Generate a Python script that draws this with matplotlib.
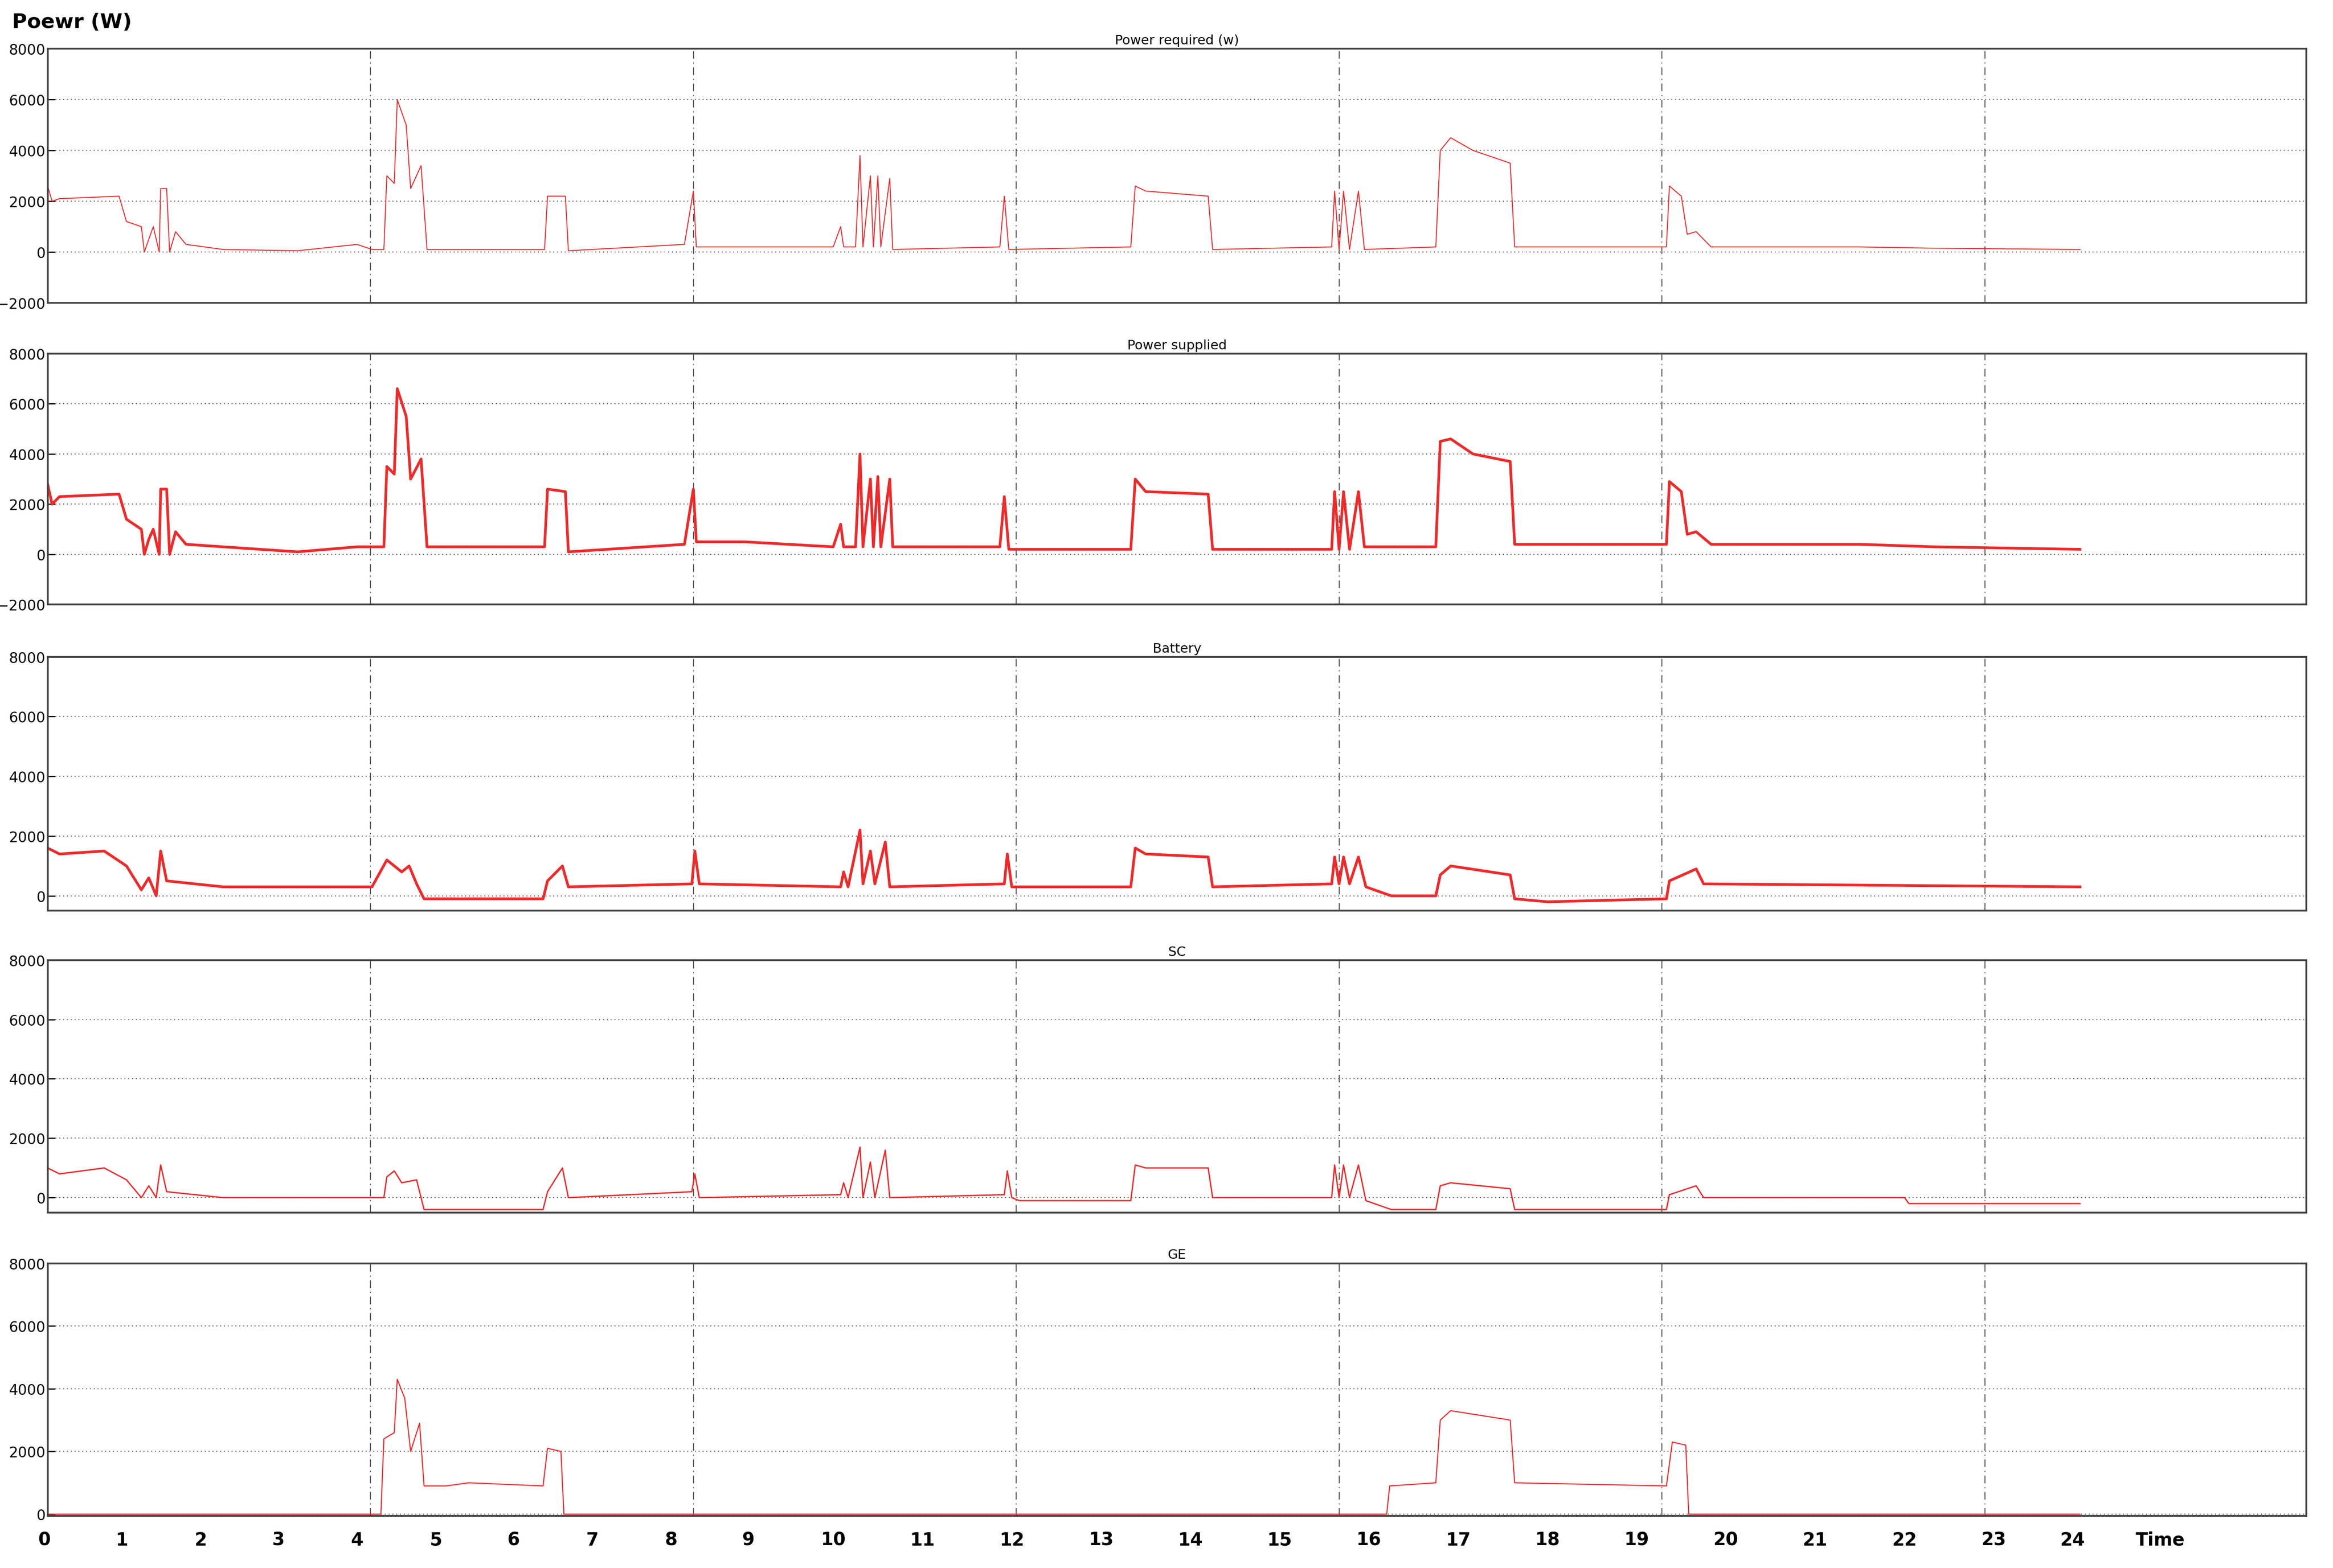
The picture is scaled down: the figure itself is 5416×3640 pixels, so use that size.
import numpy as np
import matplotlib
matplotlib.use("Agg")
import matplotlib.pyplot as plt

# time in samples (axis spans 0..1518, grid every 217 samples)
req_t = [0,3,8,48,53,63,65,68,71,75,76,80,82,86,93,118,168,208,218,226,228,233,235,241,244,251,255,334,336,348,350,428,434,436,468,528,533,535,543,546,548,553,555,558,560,566,568,640,643,646,728,731,738,780,783,863,865,868,871,875,881,885,933,936,943,958,983,986,1088,1090,1098,1102,1108,1118,1218,1268,1366]
req_v = [2600,2000,2100,2200,1200,1000,0,500,1000,0,2500,2500,0,800,300,100,50,300,100,100,3000,2700,6000,5000,2500,3400,100,100,2200,2200,50,300,2400,200,200,200,1000,200,200,3800,200,3000,200,3000,200,2900,100,200,2200,100,200,2600,2400,2200,100,200,2400,100,2400,100,2400,100,200,4000,4500,4000,3500,200,200,2600,2200,700,800,200,200,150,100]

sup_t = [0,3,8,48,53,63,65,68,71,75,76,80,82,86,93,118,168,208,218,226,228,233,235,241,244,251,255,334,336,348,350,428,434,436,468,528,533,535,543,546,548,553,555,558,560,566,568,640,643,646,728,731,738,780,783,863,865,868,871,875,881,885,933,936,943,958,983,986,1088,1090,1098,1102,1108,1118,1218,1268,1366]
sup_v = [2800,2000,2300,2400,1400,1000,0,600,1000,0,2600,2600,0,900,400,300,100,300,300,300,3500,3200,6600,5500,3000,3800,300,300,2600,2500,100,400,2600,500,500,300,1200,300,300,4000,300,3000,300,3100,300,3000,300,300,2300,200,200,3000,2500,2400,200,200,2500,200,2500,200,2500,300,300,4500,4600,4000,3700,400,400,2900,2500,800,900,400,400,300,200]

bat_t = [0,8,38,53,63,68,73,76,80,118,218,228,238,243,248,253,333,336,346,350,433,435,438,533,535,538,546,548,553,556,563,566,643,645,648,728,731,738,780,783,863,865,868,871,875,881,886,903,933,936,943,983,986,1008,1088,1090,1108,1113,1366]
bat_v = [1600,1400,1500,1000,200,600,0,1500,500,300,300,1200,800,1000,400,-100,-100,500,1000,300,400,1500,400,300,800,300,2200,400,1500,400,1800,300,400,1400,300,300,1600,1400,1300,300,400,1300,400,1300,400,1300,300,0,0,700,1000,700,-100,-200,-100,500,900,400,300]

sc_t = [0,8,38,53,63,68,73,76,80,118,218,226,228,233,238,248,253,333,336,346,350,433,435,438,533,535,538,546,548,553,556,563,566,643,645,648,653,728,731,738,780,783,863,865,868,871,875,881,886,903,933,936,943,983,986,1088,1090,1108,1113,1248,1251,1366]
sc_v = [1000,800,1000,600,0,400,0,1100,200,0,0,0,700,900,500,600,-400,-400,200,1000,0,200,800,0,100,500,0,1700,0,1200,0,1600,0,100,900,0,-100,-100,1100,1000,1000,0,0,1100,0,1100,0,1100,-100,-400,-400,400,500,300,-400,-400,100,400,0,0,-200,-200]

ge_t = [0,224,226,233,235,240,244,250,253,268,283,333,336,345,347,900,902,933,936,943,983,986,1088,1092,1101,1103,1366]
ge_v = [0,0,2400,2600,4300,3700,2000,2900,900,900,1000,900,2100,2000,0,0,900,1000,3000,3300,3000,1000,900,2300,2200,0,0]

titles = ["Power required (w)", "Power supplied", "Battery", "SC", "GE"]
ylims = [(-2000, 8000), (-2000, 8000), (-500, 8000), (-500, 8000), (-50, 8000)]
widths = [1.6, 4.5, 4.5, 2.2, 1.8]
series = [(req_t, req_v), (sup_t, sup_v), (bat_t, bat_v), (sc_t, sc_v), (ge_t, ge_v)]

time_labels = [str(i) for i in range(25)]
time_label_pos = [-2,50,103,155,208,261,313,366,419,471,528,588,648,708,768,828,888,948,1008,1068,1128,1188,1248,1308,1361]

W, H = 5416, 3641
fig = plt.figure(figsize=(W/100, H/100), dpi=100)
rows = [(33,203),(237,405),(440,610),(643,812),(846,1015)]
L, R = 32/1568, 1550/1568
red = "#ee2a2a"
for i,((t,v),(y0,y1)) in enumerate(zip(series, rows)):
    ax = fig.add_axes([L, 1-y1/1050, R-L, (y1-y0)/1050])
    ax.plot(t, v, color=red, lw=widths[i])
    ax.set_xlim(0, 1518)
    ax.set_ylim(*ylims[i])
    ax.set_yticks(range(-2000 if ylims[i][0] < -1000 else 0, 8001, 2000))
    ax.set_xticks(range(217, 1518, 217))
    ax.tick_params(axis='y', labelsize=24, length=12, width=2, direction='in')
    ax.tick_params(axis='x', length=0, labelbottom=False)
    ax.grid(axis='y', ls=(0,(1,3)), color='#555555', lw=1.6)
    ax.grid(axis='x', ls=(0,(8,4,1,4)), color='#555555', lw=1.6)
    for s in ax.spines.values():
        s.set_linewidth(3); s.set_color('#444444')
    ax.set_title(titles[i], fontsize=22, pad=8)
    if i == 4:
        for p, lab in zip(time_label_pos, time_labels):
            ax.text(p, -0.06, lab, transform=ax.get_xaxis_transform(), ha='center', va='top', fontsize=30, fontweight='bold')
        ax.text(1420, -0.06, "Time", transform=ax.get_xaxis_transform(), ha='center', va='top', fontsize=30, fontweight='bold')
fig.text(8/1568, 1-15/1050, "Poewr (W)", fontsize=34, fontweight='bold', va='center')
fig.savefig("out.png", dpi=100)
